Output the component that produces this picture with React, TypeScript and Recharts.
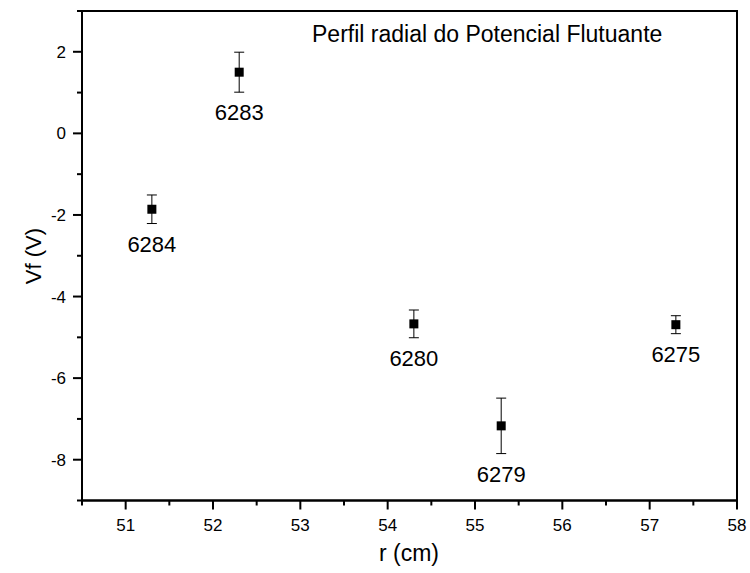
import { ScatterChart, Scatter, XAxis, YAxis, ErrorBar, ReferenceArea, Customized } from "recharts"

// raio da sonda (cm), potencial flutuante (V), erro, número do disparo
const radius = [51.3, 52.3, 54.3, 55.3, 57.3]
const vf = [-1.86, 1.5, -4.67, -7.17, -4.69]
const vfErr = [0.35, 0.49, 0.34, 0.68, 0.22]
const shots = ["6284", "6283", "6280", "6279", "6275"]

const xTicks = [50.5, 51, 51.5, 52, 52.5, 53, 53.5, 54, 54.5, 55, 55.5, 56, 56.5, 57, 57.5, 58]
const yTicks = [-9, -8, -7, -6, -5, -4, -3, -2, -1, 0, 1, 2, 3]

const FONT = "'Liberation Sans', Arial, sans-serif"

const points = radius.map((r, i) => ({ x: r, y: vf[i], err: vfErr[i], label: shots[i] }))
// posição dos rótulos: logo abaixo da barra de erro
const labelPoints = points.map((p) => ({ x: p.x, y: p.y - p.err, label: p.label }))

const XTick = (props: any) => {
  const { x, y, payload } = props
  const major = Number.isInteger(payload.value)
  return (
    <g>
      <line x1={x} y1={y} x2={x} y2={y + (major ? 9 : 5)} stroke="#000" strokeWidth={2} />
      {major && (
        <text x={x} y={y + 30} textAnchor="middle" fontSize={17} fontFamily={FONT} fill="#000">
          {payload.value}
        </text>
      )}
    </g>
  )
}

const YTick = (props: any) => {
  const { x, y, payload } = props
  const major = payload.value % 2 === 0
  return (
    <g>
      <line x1={x - (major ? 9 : 5)} y1={y} x2={x} y2={y} stroke="#000" strokeWidth={2} />
      {major && (
        <text x={x - 16} y={y} dy="0.36em" textAnchor="end" fontSize={17} fontFamily={FONT} fill="#000">
          {payload.value}
        </text>
      )}
    </g>
  )
}

const SquareDot = (props: any) => {
  const { cx, cy } = props
  return <rect x={cx - 4.5} y={cy - 4.5} width={9} height={9} fill="#000" />
}

const ShotLabel = (props: any) => {
  const { cx, cy, payload } = props
  return (
    <text x={cx} y={cy + 28} textAnchor="middle" fontSize={22} fontFamily={FONT} fill="#000">
      {payload.label}
    </text>
  )
}

const Titles = () => (
  <g fontFamily={FONT} fill="#000">
    <text x={312} y={42} fontSize={23}>Perfil radial do Potencial Flutuante</text>
    <text x={409} y={561} fontSize={23} textAnchor="middle">r (cm)</text>
    <text x={41} y={256} fontSize={22} textAnchor="middle" transform="rotate(-90, 41, 256)">
      Vf (V)
    </text>
  </g>
)

export default function App() {
  return (
    <div style={{ position: "absolute", left: 0, top: 0, background: "#fff" }}>
      <ScatterChart width={750} height={573} margin={{ top: 11, right: 13, left: 0, bottom: 0 }}>
        <XAxis
          type="number"
          dataKey="x"
          domain={[50.5, 58]}
          ticks={xTicks}
          interval={0}
          height={72.5}
          tickSize={0}
          tickMargin={0}
          tickLine={false}
          tick={<XTick />}
          axisLine={{ stroke: "#000", strokeWidth: 2 }}
          allowDataOverflow
        />
        <YAxis
          type="number"
          dataKey="y"
          domain={[-9, 3]}
          ticks={yTicks}
          interval={0}
          width={82}
          tickSize={0}
          tickMargin={0}
          tickLine={false}
          tick={<YTick />}
          axisLine={{ stroke: "#000", strokeWidth: 2 }}
          allowDataOverflow
        />
        <ReferenceArea x1={50.5} x2={58} y1={-9} y2={3} fill="none" stroke="#000" strokeWidth={2} />
        <Scatter data={points} shape={<SquareDot />} isAnimationActive={false}>
          <ErrorBar dataKey="err" direction="y" width={5} stroke="#000" strokeWidth={1} isAnimationActive={false} />
        </Scatter>
        <Scatter data={labelPoints} shape={<ShotLabel />} isAnimationActive={false} />
        <Customized component={<Titles />} />
      </ScatterChart>
    </div>
  )
}
